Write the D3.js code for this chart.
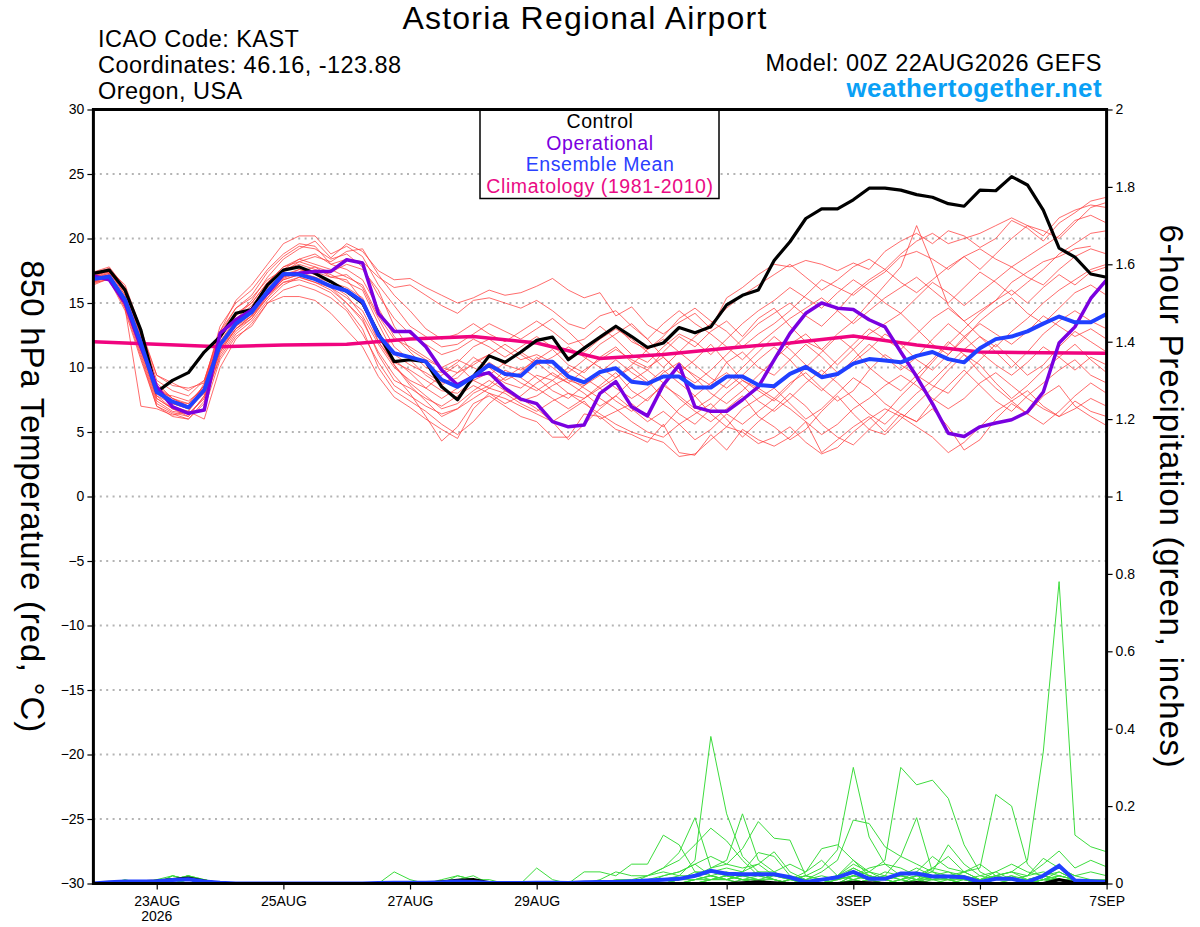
<!DOCTYPE html>
<html>
<head>
<meta charset="utf-8">
<script src="https://cdn.jsdelivr.net/npm/d3@7"></script>
<style>
  body { margin: 0; background: #fff; }
  svg { font-family: "Liberation Sans", Arial, Helvetica, sans-serif; }
</style>
</head>
<body>
<svg id="chart"></svg>
<script>
// forecast hours, 6-hourly from 00Z 22AUG2026 out to 384h
var hours = d3.range(0, 385, 6);

var tickHours = [24, 72, 120, 168, 240, 288, 336, 384];
var tickLabels = ["23AUG", "25AUG", "27AUG", "29AUG", "1SEP", "3SEP", "5SEP", "7SEP"];
var tempTicks = [30, 25, 20, 15, 10, 5, 0, -5, -10, -15, -20, -25, -30];
var precipTicks = [0, 0.2, 0.4, 0.6, 0.8, 1, 1.2, 1.4, 1.6, 1.8, 2];

// 850 hPa temperature, deg C
var control = [17.3, 17.55, 16.0, 12.9, 8.1, 9.0, 9.6, 11.2, 12.4, 14.2, 14.5, 16.4, 17.55,
  17.8, 17.3, 16.65, 15.9, 15.0, 12.65, 10.45, 10.6, 10.45, 8.5,
  7.5, 9.3, 10.9, 10.4, 11.2, 12.1, 12.35, 10.6, 11.5, 12.35,
  13.2, 12.4, 11.55, 11.9, 13.1, 12.7, 13.15, 14.85, 15.6, 16.0,
  18.3, 19.75, 21.55, 22.3, 22.3, 23.0, 23.9, 23.9, 23.75, 23.4, 23.2,
  22.7, 22.5, 23.75, 23.7, 24.8, 24.15, 22.2, 19.25, 18.55, 17.25, 17.0];

var operational = [17.1, 16.8, 15.0, 11.6, 8.5, 6.95, 6.45, 6.7, 12.65, 13.7, 14.45, 15.75, 17.2,
  17.3, 17.45, 17.45, 18.35, 18.1, 14.2, 12.8, 12.8, 11.6, 9.8,
  8.65, 9.3, 9.6, 8.4, 7.55, 7.2, 5.8, 5.4, 5.55, 8.0,
  8.9, 6.95, 6.25, 8.65, 10.2, 6.95, 6.6, 6.6, 7.5, 8.5,
  10.6, 12.65, 14.2, 15.0, 14.6, 14.5, 13.7, 13.15, 11.2, 9.3, 7.2,
  4.9, 4.65, 5.4, 5.7, 5.95, 6.55, 8.1, 11.9, 13.15, 15.35, 16.8];

var ensMean = [16.85, 17.05, 15.25, 11.9, 8.1, 7.35, 6.9, 8.25, 11.75, 13.4, 14.3, 15.9, 17.25,
  17.2, 16.85, 16.3, 15.95, 15.1, 12.5, 11.1, 10.8, 10.45, 9.05,
  8.5, 9.3, 10.2, 9.5, 9.35, 10.45, 10.45, 9.3, 8.85, 9.65,
  9.95, 8.9, 8.75, 9.3, 9.3, 8.45, 8.45, 9.3, 9.3, 8.65,
  8.55, 9.5, 10.05, 9.25, 9.5, 10.3, 10.65, 10.55, 10.4, 10.9, 11.2,
  10.65, 10.4, 11.5, 12.2, 12.4, 12.8, 13.4, 13.95, 13.5, 13.5, 14.15];

// climatology 1981-2010, daily at 00Z
var climDays = d3.range(0, 17);
var climatology = [12.0, 11.8, 11.6, 11.75, 11.8, 12.2, 12.4, 11.9, 10.7, 11.0, 11.5, 11.9, 12.45, 11.75, 11.2, 11.15, 11.1];

// ensemble members
var m01 = [17.0, 17.6, 15.8, 12.5, 8.8, 7.6, 7.0, 8.6, 12.2, 14.0, 15.2, 17.0, 18.4,
  19.2, 19.8, 18.5, 19.6, 19.0, 17.5, 16.8, 16.9, 16.2, 15.6,
  15.0, 15.4, 16.0, 15.6, 15.8, 16.3, 16.9, 16.0, 15.4, 15.8,
  14.0, 14.7, 13.3, 12.6, 13.5, 14.2, 13.0, 15.4, 16.2, 17.2,
  18.0, 17.8, 18.3, 18.0, 17.5, 18.1, 17.6, 19.0, 19.8, 20.4, 19.6,
  20.6, 20.2, 19.3, 20.0, 21.4, 20.8, 19.8, 21.2, 22.0, 22.9, 23.2];
var m02 = [16.6, 17.2, 14.8, 11.0, 7.2, 6.5, 6.2, 7.8, 11.2, 13.0, 14.0, 15.4, 16.9,
  17.4, 17.0, 16.2, 15.0, 13.6, 11.2, 9.4, 8.0, 6.2, 4.3,
  5.4, 7.2, 7.8, 7.0, 6.2, 5.8, 4.6, 4.6, 6.4, 6.2,
  5.2, 4.8, 4.2, 5.6, 3.4, 3.2, 4.8, 3.6, 5.2, 4.4,
  3.9, 4.6, 5.8, 3.4, 4.4, 5.4, 6.2, 5.0, 6.4, 5.8, 6.8,
  5.4, 3.6, 4.4, 6.0, 7.2, 6.4, 7.8, 8.6, 7.0, 6.2, 5.5];
var m03 = [17.2, 17.4, 15.6, 12.0, 8.2, 7.0, 6.6, 8.8, 12.6, 14.6, 15.4, 16.8, 17.6,
  18.0, 17.6, 17.2, 16.6, 16.0, 13.4, 11.0, 10.2, 9.6, 8.8,
  9.2, 10.4, 11.0, 10.2, 9.8, 10.6, 11.4, 10.2, 9.6, 10.8,
  11.6, 10.4, 9.8, 11.2, 12.4, 11.6, 12.8, 13.6, 12.4, 13.8,
  14.6, 13.2, 12.0, 11.4, 12.6, 13.6, 15.0, 16.4, 17.8, 21.0, 18.0,
  14.8, 13.6, 14.4, 15.2, 16.6, 17.4, 18.2, 18.6, 19.2, 19.4];
var m04 = [16.8, 17.0, 15.0, 11.4, 7.8, 7.2, 6.8, 8.0, 11.6, 13.2, 14.2, 15.8, 17.0,
  17.4, 17.8, 17.0, 16.8, 15.2, 12.0, 10.4, 9.8, 9.0, 8.2,
  8.0, 9.0, 9.6, 8.8, 8.4, 9.4, 9.0, 8.0, 7.6, 8.6,
  9.6, 8.2, 7.4, 8.8, 10.2, 9.4, 8.6, 10.4, 11.2, 10.0,
  9.4, 10.6, 11.8, 10.8, 9.6, 10.4, 11.4, 12.6, 11.8, 10.6, 9.8,
  11.0, 12.4, 13.4, 12.6, 11.8, 12.8, 14.0, 13.2, 12.4, 13.0, 12.2];
var m05 = [17.4, 17.8, 16.2, 12.8, 9.4, 8.8, 8.2, 9.0, 12.8, 15.2, 16.4, 18.0, 19.6,
  20.2, 20.2, 18.8, 19.4, 18.6, 16.4, 14.8, 13.2, 12.4, 11.6,
  11.8, 12.6, 13.4, 12.8, 12.2, 13.0, 13.8, 12.8, 11.6, 12.4,
  13.2, 12.0, 11.4, 12.4, 13.8, 14.6, 13.6, 12.8, 11.6, 12.6,
  13.4, 14.4, 15.6, 16.8, 16.2, 15.6, 16.6, 17.4, 18.6, 19.0, 18.4,
  17.6, 18.6, 19.2, 18.4, 17.8, 18.6, 19.4, 20.2, 21.4, 21.8, 21.2];
var m06 = [16.4, 16.9, 14.6, 7.0, 6.8, 6.3, 6.6, 6.0, 10.0, 12.2, 13.4, 15.0, 15.5,
  15.5, 15.2, 14.2, 12.9, 11.6, 9.3, 7.7, 6.9, 6.0, 5.2,
  4.5, 6.8, 8.0, 7.6, 7.0, 6.4, 5.8, 6.6, 7.4, 6.0,
  6.6, 7.2, 6.2, 5.4, 6.8, 7.8, 6.4, 5.4, 6.8, 7.6,
  8.4, 7.2, 6.0, 6.8, 8.0, 9.2, 8.4, 7.2, 6.4, 5.8, 7.4,
  8.6, 9.8, 8.6, 7.4, 6.6, 7.8, 8.8, 9.8, 10.6, 9.4, 8.8];
var m07 = [17.0, 17.3, 15.2, 11.8, 8.0, 7.8, 7.4, 8.4, 11.8, 13.6, 14.6, 16.2, 17.6,
  18.4, 18.8, 18.0, 17.6, 16.8, 14.6, 12.4, 11.2, 10.0, 9.6,
  10.4, 11.6, 12.2, 11.4, 10.6, 11.0, 10.4, 9.6, 10.6, 11.8,
  12.6, 13.4, 12.2, 10.8, 9.6, 10.6, 11.8, 10.4, 9.0, 8.4,
  7.6, 8.8, 9.6, 8.4, 7.4, 8.2, 9.8, 11.0, 10.2, 9.4, 8.6,
  8.0, 9.4, 10.6, 11.8, 10.6, 9.4, 10.2, 11.6, 12.8, 12.0, 11.2];
var m08 = [16.6, 16.8, 14.4, 10.6, 7.0, 6.4, 6.0, 7.4, 10.8, 12.6, 13.6, 15.2, 16.4,
  17.0, 16.6, 16.0, 15.0, 13.8, 11.0, 9.0, 8.4, 7.6, 7.0,
  7.8, 8.6, 8.0, 7.2, 7.8, 8.8, 9.6, 8.8, 8.0, 7.0,
  7.8, 9.0, 9.8, 8.8, 7.6, 6.6, 5.8, 6.8, 7.8, 6.2,
  5.4, 4.4, 5.2, 6.6, 7.8, 6.4, 5.2, 4.8, 6.0, 7.2, 8.4,
  9.8, 11.0, 10.2, 8.8, 7.6, 8.6, 9.8, 10.8, 11.8, 10.6, 9.6];
var m09 = [17.2, 17.6, 16.0, 12.6, 8.6, 7.4, 7.2, 8.6, 12.4, 14.2, 15.0, 16.6, 17.8,
  18.2, 17.8, 17.4, 18.0, 17.6, 16.0, 13.2, 11.4, 10.6, 10.0,
  10.6, 10.0, 9.4, 10.4, 11.2, 10.4, 9.4, 8.8, 9.8, 10.6,
  11.4, 10.6, 10.0, 10.8, 9.6, 8.8, 9.8, 11.0, 12.2, 13.4,
  14.2, 15.0, 14.0, 13.2, 14.4, 15.8, 16.8, 17.6, 16.6, 15.8, 16.8,
  17.8, 18.6, 17.6, 18.8, 20.0, 21.0, 20.6, 20.0, 21.2, 22.4, 22.8];
var m10 = [16.8, 17.0, 15.4, 12.2, 8.4, 7.0, 6.4, 7.6, 11.4, 13.2, 14.0, 15.6, 16.8,
  17.2, 16.8, 16.4, 15.6, 14.0, 11.8, 10.0, 9.0, 8.4, 9.4,
  10.2, 9.0, 8.4, 9.2, 10.0, 9.2, 8.2, 7.6, 8.6, 9.4,
  8.4, 7.6, 8.4, 9.6, 10.4, 9.2, 8.0, 7.2, 8.2, 9.4,
  10.6, 11.8, 12.6, 11.4, 10.2, 11.4, 12.6, 13.4, 14.2, 13.0, 11.8,
  11.0, 12.2, 13.6, 14.6, 15.4, 14.2, 13.4, 14.6, 15.8, 16.4, 15.6];
var m11 = [16.5, 16.9, 14.9, 11.2, 7.4, 6.6, 6.4, 6.8, 10.6, 12.4, 13.2, 15.0, 16.0,
  16.4, 16.0, 15.4, 14.4, 12.6, 10.4, 8.6, 7.8, 7.0, 6.4,
  6.8, 7.6, 8.4, 8.0, 7.2, 6.6, 7.4, 8.0, 7.2, 6.4,
  5.6, 5.0, 4.6, 4.2, 3.1, 3.3, 4.4, 5.4, 5.0, 4.1,
  4.6, 5.4, 4.2, 3.3, 3.8, 5.0, 6.0, 6.8, 6.2, 5.4, 4.6,
  3.4, 4.2, 5.4, 6.6, 7.4, 8.2, 7.0, 6.2, 6.8, 7.6, 7.0];
var m12 = [17.1, 17.5, 15.6, 12.2, 8.4, 7.6, 7.0, 8.0, 12.0, 13.8, 14.8, 16.4, 17.4,
  18.2, 18.6, 18.2, 19.0, 19.2, 17.2, 15.6, 14.4, 13.0, 12.2,
  12.6, 13.4, 12.6, 12.0, 12.8, 13.6, 12.8, 11.8, 12.2, 13.2,
  12.2, 11.0, 10.4, 11.6, 12.6, 12.0, 11.0, 12.2, 13.4, 14.4,
  15.2, 16.2, 15.4, 14.6, 15.8, 16.8, 16.0, 15.0, 14.2, 15.4, 16.6,
  15.8, 14.8, 15.8, 16.8, 17.8, 17.0, 16.4, 17.6, 18.6, 19.2, 18.8];
var m13 = [16.9, 17.2, 15.0, 11.6, 7.6, 6.8, 6.6, 8.2, 11.6, 13.4, 14.4, 15.8, 17.2,
  17.6, 17.2, 16.6, 16.2, 15.4, 12.6, 10.6, 9.6, 8.4, 7.6,
  8.4, 9.4, 10.4, 9.6, 8.8, 8.2, 9.0, 10.0, 9.2, 8.4,
  7.4, 6.6, 7.6, 8.6, 7.8, 6.8, 7.6, 8.8, 10.0, 11.2,
  12.4, 11.4, 10.2, 9.4, 10.6, 11.8, 13.0, 12.2, 11.4, 12.6, 13.8,
  14.6, 13.6, 12.4, 11.6, 12.8, 13.8, 15.0, 16.0, 16.8, 17.6, 18.0];
var m14 = [16.7, 17.0, 14.6, 10.8, 7.0, 6.2, 6.0, 7.2, 11.0, 12.8, 13.8, 15.4, 16.6,
  16.8, 16.4, 15.8, 14.6, 13.0, 10.0, 8.2, 7.4, 6.6, 5.6,
  4.8, 5.8, 7.2, 8.2, 7.6, 6.8, 5.8, 4.4, 5.6, 6.8,
  7.8, 6.8, 5.8, 6.6, 5.6, 4.4, 5.2, 6.4, 5.6, 6.6,
  7.6, 6.8, 5.8, 4.8, 5.6, 6.8, 7.6, 8.6, 9.4, 8.6, 7.6,
  6.8, 7.6, 8.8, 9.6, 8.6, 7.6, 6.8, 6.2, 7.4, 6.6, 6.2];
var m15 = [17.3, 17.7, 16.0, 12.8, 9.0, 8.2, 7.8, 9.0, 12.8, 14.6, 15.6, 17.4, 18.6,
  19.4, 19.2, 18.4, 18.8, 17.8, 15.6, 13.8, 12.6, 11.8, 11.0,
  11.4, 12.2, 11.6, 10.8, 11.6, 12.4, 11.6, 10.8, 11.2, 12.2,
  13.0, 12.2, 11.2, 10.0, 11.2, 12.4, 13.4, 14.6, 15.6, 16.4,
  17.2, 18.0, 17.0, 16.0, 16.8, 17.8, 18.4, 17.6, 18.8, 19.8, 20.4,
  19.6, 20.0, 20.4, 21.0, 21.6, 21.0, 20.2, 21.6, 22.2, 22.6, 22.4];
var m16 = [16.9, 17.3, 15.4, 11.8, 8.2, 7.2, 6.8, 8.4, 12.0, 13.6, 14.4, 16.0, 17.0,
  17.6, 17.4, 17.0, 17.2, 16.2, 13.8, 11.6, 10.6, 9.4, 8.6,
  9.6, 10.8, 10.0, 9.0, 9.6, 10.8, 10.0, 9.0, 8.6, 9.6,
  10.6, 9.6, 8.8, 9.8, 8.8, 7.8, 8.8, 9.6, 8.6, 7.4,
  6.6, 7.6, 8.8, 9.8, 8.8, 7.6, 6.4, 5.6, 6.8, 8.0, 9.0,
  10.2, 11.4, 12.4, 11.2, 10.0, 11.2, 12.6, 13.6, 14.4, 13.6, 13.0];
var m17 = [16.6, 17.0, 14.8, 11.4, 7.6, 6.8, 6.4, 7.6, 11.2, 13.0, 13.8, 15.6, 16.6,
  17.0, 16.6, 16.2, 15.4, 14.4, 12.0, 10.2, 8.8, 7.8, 6.8,
  7.2, 8.2, 9.0, 8.2, 7.4, 7.8, 8.6, 9.2, 8.4, 7.6,
  6.8, 5.8, 5.0, 4.6, 5.6, 6.4, 7.2, 6.0, 4.6, 5.8,
  6.8, 8.0, 7.0, 5.6, 4.6, 4.0, 5.2, 6.4, 7.8, 9.0, 10.4,
  11.8, 13.0, 14.2, 15.2, 16.0, 15.0, 16.2, 17.2, 16.4, 17.4, 17.8];
var m18 = [17.0, 17.4, 15.8, 12.4, 8.6, 7.6, 7.2, 8.6, 12.4, 14.0, 15.0, 16.6, 17.8,
  18.4, 18.0, 17.6, 17.0, 16.4, 14.0, 12.2, 11.6, 10.8, 10.0,
  9.6, 10.2, 11.0, 11.8, 11.0, 10.2, 10.8, 11.6, 10.8, 10.0,
  9.2, 10.2, 11.4, 12.2, 11.2, 10.2, 9.2, 8.4, 9.4, 10.6,
  11.6, 10.6, 9.2, 8.2, 9.4, 10.6, 11.8, 10.8, 9.8, 10.8, 12.2,
  13.4, 12.4, 11.2, 10.2, 9.4, 10.4, 11.6, 10.8, 9.8, 10.8, 10.2];
var m19 = [17.2, 17.6, 16.4, 13.0, 9.4, 8.6, 8.4, 8.8, 13.2, 15.0, 16.0, 17.6, 18.8,
  19.6, 19.4, 18.0, 18.4, 18.2, 17.0, 16.2, 16.4, 15.6, 14.8,
  14.2, 15.2, 15.4, 15.0, 14.6, 15.2, 14.4, 13.4, 13.0, 14.0,
  14.4, 13.2, 12.2, 13.4, 14.4, 13.4, 12.6, 11.6, 10.6, 11.8,
  12.8, 13.8, 14.6, 15.4, 14.4, 13.4, 14.4, 15.4, 16.2, 17.0, 16.0,
  15.0, 16.2, 17.4, 16.6, 15.6, 16.6, 17.6, 18.8, 19.6, 20.4, 20.6];
var m20 = [16.8, 17.1, 15.2, 11.6, 7.8, 6.8, 6.2, 7.8, 11.4, 13.0, 14.0, 15.8, 16.8,
  17.2, 17.0, 16.6, 16.0, 14.8, 12.4, 10.2, 8.6, 7.4, 6.2,
  6.8, 8.0, 8.6, 9.8, 9.2, 8.4, 7.6, 6.8, 7.6, 8.4,
  9.2, 10.0, 9.0, 7.6, 6.4, 5.6, 6.8, 8.0, 9.0, 8.2,
  7.4, 8.6, 10.0, 11.2, 12.4, 11.4, 10.0, 9.0, 8.2, 9.4, 10.6,
  12.0, 11.0, 9.6, 8.4, 7.4, 6.4, 5.6, 6.6, 7.8, 8.8, 8.0];

// 6-hour precipitation, inches
var ctlPrecip = [0, 0, 0.002, 0.004, 0.006, 0.01, 0.014, 0.006, 0, 0,
  0, 0, 0, 0, 0, 0, 0, 0, 0, 0,
  0, 0, 0.004, 0.008, 0.01, 0.002, 0, 0, 0, 0,
  0, 0, 0, 0, 0, 0, 0, 0, 0, 0,
  0, 0.002, 0.004, 0.002, 0, 0, 0, 0, 0.003, 0.002,
  0, 0, 0.002, 0, 0, 0, 0, 0, 0, 0,
  0, 0.01, 0.002, 0, 0];
var meanPrecip = [0, 0.003, 0.005, 0.005, 0.006, 0.009, 0.011, 0.005, 0.002, 0,
  0, 0, 0, 0, 0, 0, 0, 0, 0.001, 0.002,
  0.002, 0.002, 0.003, 0.005, 0.004, 0.002, 0.001, 0.001, 0.002, 0.002,
  0.001, 0.003, 0.004, 0.004, 0.006, 0.008, 0.01, 0.012, 0.02, 0.033,
  0.025, 0.024, 0.024, 0.024, 0.016, 0.004, 0.01, 0.016, 0.03, 0.012,
  0.012, 0.026, 0.026, 0.018, 0.018, 0.016, 0.004, 0.012, 0.012, 0.004,
  0.02, 0.046, 0.008, 0.006, 0.004];

var p01 = [0, 0, 0, 0, 0.01, 0.02, 0.01, 0, 0, 0,
  0, 0, 0, 0, 0, 0, 0, 0, 0, 0,
  0, 0, 0, 0, 0, 0, 0, 0, 0.04, 0.01,
  0, 0, 0.01, 0.03, 0.02, 0.02, 0.03, 0.02, 0.06, 0.38,
  0.18, 0.07, 0.03, 0.01, 0, 0, 0.01, 0.02, 0.01, 0,
  0, 0.01, 0.03, 0.01, 0, 0, 0.01, 0, 0, 0.01,
  0.02, 0.01, 0, 0, 0];
var p02 = [0, 0, 0.01, 0, 0, 0.02, 0.01, 0, 0, 0,
  0, 0, 0, 0, 0, 0, 0, 0, 0, 0.03,
  0.01, 0, 0, 0.01, 0.01, 0, 0, 0, 0, 0,
  0, 0.03, 0.03, 0.02, 0.05, 0.05, 0.125, 0.1, 0.03, 0.03,
  0.02, 0.01, 0, 0, 0.01, 0.02, 0.01, 0, 0, 0.01,
  0.02, 0.01, 0, 0, 0.01, 0.03, 0.01, 0, 0, 0,
  0.01, 0, 0, 0, 0];
var p03 = [0, 0, 0, 0, 0, 0.01, 0.02, 0, 0, 0,
  0, 0, 0, 0, 0, 0, 0, 0, 0, 0,
  0, 0, 0.01, 0.02, 0.01, 0, 0, 0, 0, 0,
  0, 0, 0, 0.01, 0.01, 0.02, 0.04, 0.08, 0.17, 0.04,
  0.06, 0.18, 0.06, 0.03, 0.01, 0, 0, 0.01, 0.04, 0.02,
  0.01, 0, 0, 0.02, 0.01, 0, 0, 0.01, 0.02, 0,
  0, 0.01, 0, 0, 0];
var p04 = [0, 0, 0, 0, 0, 0.01, 0.01, 0, 0, 0,
  0, 0, 0, 0, 0, 0, 0, 0, 0, 0,
  0, 0, 0, 0, 0, 0, 0, 0, 0, 0,
  0, 0, 0, 0, 0, 0.02, 0.04, 0.06, 0.1, 0.143,
  0.11, 0.06, 0.02, 0.01, 0, 0, 0, 0.02, 0.06, 0.03,
  0.01, 0.02, 0.04, 0.02, 0.01, 0, 0, 0, 0.01, 0.01,
  0.02, 0.04, 0.02, 0.01, 0.01];
var p05 = [0, 0, 0, 0, 0, 0.01, 0.01, 0.01, 0, 0,
  0, 0, 0, 0, 0, 0, 0, 0, 0, 0,
  0, 0, 0, 0, 0, 0, 0, 0, 0, 0,
  0, 0, 0, 0, 0, 0, 0, 0.01, 0.02, 0.04,
  0.05, 0.09, 0.16, 0.117, 0.112, 0.02, 0.01, 0, 0, 0.01,
  0.03, 0.02, 0.01, 0.04, 0.07, 0.03, 0.01, 0, 0, 0,
  0.01, 0.03, 0.01, 0, 0];
var p06 = [0, 0, 0, 0, 0, 0.02, 0.01, 0, 0, 0,
  0, 0, 0, 0, 0, 0, 0, 0, 0, 0,
  0, 0, 0, 0.02, 0.01, 0.01, 0, 0, 0, 0,
  0, 0, 0, 0, 0, 0, 0.02, 0.03, 0.05, 0.07,
  0.05, 0.04, 0.05, 0.082, 0.03, 0.01, 0, 0, 0.02, 0.01,
  0, 0, 0.01, 0.02, 0.03, 0.02, 0, 0, 0.01, 0.02,
  0.03, 0.02, 0.01, 0, 0];
var p07 = [0, 0, 0, 0, 0, 0.01, 0.01, 0, 0, 0,
  0, 0, 0, 0, 0, 0, 0, 0, 0, 0,
  0, 0, 0, 0, 0, 0, 0, 0, 0, 0,
  0, 0, 0, 0, 0, 0, 0, 0.01, 0.02, 0.01,
  0.02, 0.01, 0.01, 0, 0.01, 0.02, 0.04, 0.087, 0.30, 0.12,
  0.05, 0.02, 0.01, 0, 0, 0.01, 0.01, 0, 0, 0,
  0.01, 0.02, 0.01, 0, 0];
var p08 = [0, 0, 0, 0, 0, 0, 0.01, 0, 0, 0,
  0, 0, 0, 0, 0, 0, 0, 0, 0, 0,
  0, 0, 0, 0, 0, 0, 0, 0, 0, 0,
  0, 0, 0, 0, 0, 0, 0, 0, 0.01, 0.02,
  0.03, 0.02, 0.01, 0.01, 0, 0.01, 0.03, 0.06, 0.164, 0.155,
  0.095, 0.07, 0.05, 0.03, 0.02, 0.01, 0, 0.02, 0.03, 0.01,
  0, 0, 0.01, 0.01, 0];
var p09 = [0, 0, 0, 0, 0.01, 0.01, 0.02, 0, 0, 0,
  0, 0, 0, 0, 0, 0, 0, 0, 0, 0,
  0, 0, 0, 0, 0, 0, 0, 0, 0, 0,
  0, 0, 0, 0, 0, 0.01, 0.02, 0.03, 0.05, 0.02,
  0.01, 0.03, 0.05, 0.02, 0.01, 0.03, 0.09, 0.1, 0.06, 0.02,
  0.01, 0, 0, 0.01, 0.02, 0.01, 0, 0, 0, 0,
  0, 0.01, 0, 0, 0];
var p10 = [0, 0, 0, 0, 0, 0, 0.01, 0, 0, 0,
  0, 0, 0, 0, 0, 0, 0, 0, 0, 0,
  0, 0, 0, 0, 0, 0, 0, 0, 0, 0,
  0, 0, 0, 0, 0, 0, 0.01, 0.01, 0.02, 0.03,
  0.02, 0.01, 0.01, 0, 0, 0.01, 0.02, 0.01, 0.02, 0.03,
  0.06, 0.30, 0.255, 0.267, 0.22, 0.10, 0.03, 0.01, 0.01, 0,
  0.01, 0.01, 0, 0, 0];
var p11 = [0, 0, 0, 0, 0, 0.01, 0.01, 0, 0, 0,
  0, 0, 0, 0, 0, 0, 0, 0, 0, 0,
  0, 0, 0, 0, 0, 0, 0, 0, 0, 0,
  0, 0, 0, 0, 0, 0, 0, 0.01, 0.03, 0.02,
  0.01, 0.02, 0.03, 0.01, 0, 0, 0.01, 0.02, 0.05, 0.03,
  0.02, 0.07, 0.17, 0.03, 0.01, 0.01, 0.02, 0.03, 0.01, 0,
  0, 0.02, 0.01, 0, 0];
var p12 = [0, 0, 0, 0, 0, 0.01, 0.02, 0.01, 0, 0,
  0, 0, 0, 0, 0, 0, 0, 0, 0, 0,
  0, 0, 0, 0.01, 0.02, 0, 0, 0, 0, 0,
  0, 0, 0, 0, 0, 0, 0, 0, 0, 0.01,
  0.02, 0.01, 0, 0, 0.01, 0.02, 0.01, 0, 0.02, 0.04,
  0.05, 0.04, 0.02, 0.03, 0.1, 0.05, 0.02, 0.01, 0.02, 0.01,
  0.02, 0.03, 0.01, 0.01, 0];
var p13 = [0, 0, 0, 0, 0, 0, 0.01, 0, 0, 0,
  0, 0, 0, 0, 0, 0, 0, 0, 0, 0,
  0, 0, 0, 0, 0, 0, 0, 0, 0, 0,
  0, 0, 0, 0, 0, 0, 0, 0, 0.01, 0.02,
  0.01, 0, 0, 0, 0, 0, 0.01, 0.02, 0.01, 0,
  0, 0.01, 0.02, 0.01, 0.02, 0.03, 0.04, 0.23, 0.2, 0.05,
  0.01, 0.02, 0.01, 0, 0];
var p14 = [0, 0, 0, 0, 0, 0.01, 0.01, 0, 0, 0,
  0, 0, 0, 0, 0, 0, 0, 0, 0, 0,
  0, 0, 0, 0, 0, 0, 0, 0, 0, 0,
  0, 0, 0, 0, 0, 0, 0, 0, 0.01, 0.01,
  0.02, 0.01, 0, 0, 0, 0, 0.01, 0.01, 0.02, 0.01,
  0, 0, 0.01, 0.02, 0.01, 0.02, 0.01, 0.02, 0.03, 0.06,
  0.34, 0.78, 0.125, 0.095, 0.082];
var p15 = [0, 0, 0, 0, 0, 0.01, 0.01, 0, 0, 0,
  0, 0, 0, 0, 0, 0, 0, 0, 0, 0,
  0, 0, 0, 0, 0, 0, 0, 0, 0, 0,
  0, 0, 0, 0, 0, 0, 0, 0, 0, 0.01,
  0.01, 0.02, 0.01, 0, 0, 0, 0, 0.01, 0.02, 0.01,
  0, 0, 0.02, 0.01, 0.01, 0, 0.01, 0.02, 0.03, 0.02,
  0.05, 0.084, 0.04, 0.06, 0.043];
var p16 = [0, 0, 0, 0, 0, 0, 0.01, 0, 0, 0,
  0, 0, 0, 0, 0, 0, 0, 0, 0, 0,
  0, 0, 0, 0, 0, 0, 0, 0, 0, 0,
  0, 0, 0, 0, 0, 0, 0, 0, 0, 0,
  0, 0.01, 0.02, 0.01, 0, 0, 0, 0.02, 0.04, 0.02,
  0.01, 0.02, 0.01, 0, 0, 0, 0.01, 0.02, 0.01, 0.02,
  0.065, 0.04, 0.02, 0.03, 0.02];
var p17 = [0, 0, 0, 0, 0, 0.01, 0.01, 0, 0, 0,
  0, 0, 0, 0, 0, 0, 0, 0, 0, 0,
  0, 0, 0, 0, 0, 0, 0, 0, 0, 0,
  0, 0, 0, 0, 0, 0, 0, 0.01, 0.01, 0.02,
  0.01, 0.02, 0.03, 0.03, 0.05, 0.03, 0.06, 0.02, 0.01, 0,
  0, 0.01, 0.02, 0.04, 0.03, 0.01, 0, 0.01, 0.01, 0,
  0, 0.01, 0, 0, 0];
var p18 = [0, 0, 0, 0, 0, 0.01, 0.02, 0.01, 0, 0,
  0, 0, 0, 0, 0, 0, 0, 0, 0, 0,
  0, 0, 0, 0.01, 0.01, 0, 0, 0, 0, 0,
  0, 0, 0, 0, 0, 0, 0.01, 0.02, 0.02, 0.03,
  0.04, 0.03, 0.08, 0.07, 0.02, 0.01, 0, 0, 0, 0.01,
  0.02, 0.01, 0, 0, 0, 0, 0, 0, 0, 0,
  0.01, 0.01, 0, 0, 0];
var p19 = [0, 0, 0, 0, 0, 0.01, 0.01, 0, 0, 0,
  0, 0, 0, 0, 0, 0, 0, 0, 0, 0,
  0, 0, 0, 0, 0, 0, 0, 0, 0, 0,
  0, 0, 0, 0, 0, 0, 0, 0, 0, 0,
  0, 0, 0.01, 0.02, 0.01, 0, 0, 0, 0.01, 0.02,
  0.01, 0.02, 0.03, 0.07, 0.04, 0.03, 0.05, 0.02, 0.01, 0.01,
  0.02, 0.01, 0, 0, 0];
var p20 = [0, 0, 0, 0, 0, 0, 0.01, 0, 0, 0,
  0, 0, 0, 0, 0, 0, 0, 0, 0, 0,
  0, 0, 0, 0, 0, 0, 0, 0, 0, 0,
  0, 0, 0, 0, 0, 0, 0, 0, 0, 0.01,
  0.01, 0, 0, 0, 0, 0, 0, 0, 0.01, 0.02,
  0.01, 0, 0.01, 0.01, 0.02, 0.01, 0.01, 0.03, 0.05, 0.03,
  0.02, 0.01, 0.01, 0, 0];

var tempMembers = [m01, m02, m03, m04, m05, m06, m07, m08, m09, m10,
                   m11, m12, m13, m14, m15, m16, m17, m18, m19, m20];
var precipMembers = [p01, p02, p03, p04, p05, p06, p07, p08, p09, p10,
                     p11, p12, p13, p14, p15, p16, p17, p18, p19, p20];

// ---------------------------------------------------------------
var width = 1200;
var height = 927;
var padL = 93.4, padR = 1106.6, padT = 109.5, padB = 883.5;

var svg = d3.select("#chart")
  .attr("width", width)
  .attr("height", height);

var x = d3.scaleLinear().domain([0, 384]).range([padL, padR]);
var yT = d3.scaleLinear().domain([-30, 30]).range([padB, padT]);
var yP = d3.scaleLinear().domain([0, 2]).range([padB, padT]);

svg.append("clipPath").attr("id", "plotclip")
  .append("rect")
  .attr("x", padL).attr("y", padT)
  .attr("width", padR - padL).attr("height", padB - padT);

// dotted grid at every 5 degrees
svg.append("g")
  .selectAll("line")
  .data(tempTicks.filter(t => t > -30 && t < 30))
  .enter()
    .append("line")
    .attr("x1", padL).attr("x2", padR)
    .attr("y1", d => yT(d)).attr("y2", d => yT(d))
    .attr("stroke", "#b4b4b4")
    .attr("stroke-width", 2)
    .attr("stroke-dasharray", "2,4.4");

var plot = svg.append("g").attr("clip-path", "url(#plotclip)");

var tLine = d3.line()
  .x((d, i) => x(hours[i]))
  .y(d => yT(d));

var pLine = d3.line()
  .x((d, i) => x(hours[i]))
  .y(d => yP(d));

plot.selectAll(".member")
  .data(tempMembers)
  .enter()
    .append("path")
    .attr("class", "member")
    .attr("d", tLine)
    .attr("fill", "none")
    .attr("stroke", "#ff3b3b")
    .attr("stroke-opacity", 0.75)
    .attr("stroke-width", 1);

plot.selectAll(".pmember")
  .data(precipMembers)
  .enter()
    .append("path")
    .attr("class", "pmember")
    .attr("d", pLine)
    .attr("fill", "none")
    .attr("stroke", "#3ddc3d")
    .attr("stroke-width", 1);

plot.append("path")
  .datum(climatology)
  .attr("d", d3.line().x((d, i) => x(climDays[i] * 24)).y(d => yT(d)))
  .attr("fill", "none")
  .attr("stroke", "#f0047f")
  .attr("stroke-width", 3.5);

plot.append("path")
  .datum(control)
  .attr("d", tLine)
  .attr("fill", "none")
  .attr("stroke", "#000")
  .attr("stroke-width", 3.2)
  .attr("stroke-linejoin", "round");

plot.append("path")
  .datum(operational)
  .attr("d", tLine)
  .attr("fill", "none")
  .attr("stroke", "#7a00e0")
  .attr("stroke-width", 3.5)
  .attr("stroke-linejoin", "round");

plot.append("path")
  .datum(ensMean)
  .attr("d", tLine)
  .attr("fill", "none")
  .attr("stroke", "#2040ff")
  .attr("stroke-width", 4)
  .attr("stroke-linejoin", "round");

plot.append("path")
  .datum(ctlPrecip)
  .attr("d", pLine)
  .attr("fill", "none")
  .attr("stroke", "#000")
  .attr("stroke-width", 3.2);

plot.append("path")
  .datum(meanPrecip)
  .attr("d", pLine)
  .attr("fill", "none")
  .attr("stroke", "#2040ff")
  .attr("stroke-width", 4);

// axes
var leftAxis = d3.axisLeft(yT).tickValues(tempTicks).tickSize(6).tickSizeOuter(0).tickFormat(d3.format("d"));
var rightAxis = d3.axisRight(yP).tickValues(precipTicks).tickSize(6).tickSizeOuter(0).tickFormat(d3.format("~g"));
var bottomAxis = d3.axisBottom(x).tickValues(tickHours).tickSize(6).tickSizeOuter(0)
  .tickFormat((d, i) => tickLabels[i]);

function styleAxis(g) {
  g.select(".domain").remove();
  g.selectAll(".tick line").attr("stroke", "#000").attr("stroke-width", 1.2);
  g.selectAll(".tick text")
    .attr("fill", "#000")
    .attr("font-size", 14)
    .attr("font-family", "'Liberation Sans', Arial, sans-serif");
}

svg.append("g")
  .attr("transform", "translate(" + padL + ",0)")
  .call(leftAxis)
  .call(styleAxis);

svg.append("g")
  .attr("transform", "translate(" + padR + ",0)")
  .call(rightAxis)
  .call(styleAxis);

var xg = svg.append("g")
  .attr("transform", "translate(0," + padB + ")")
  .call(bottomAxis)
  .call(styleAxis);
xg.selectAll(".tick text").attr("dy", "0.95em");

svg.append("text")
  .attr("x", x(24))
  .attr("y", padB + 37)
  .attr("text-anchor", "middle")
  .attr("font-size", 14)
  .text("2026");

// frame
svg.append("rect")
  .attr("x", padL).attr("y", padT)
  .attr("width", padR - padL).attr("height", padB - padT)
  .attr("fill", "none")
  .attr("stroke", "#000")
  .attr("stroke-width", 3);

// legend box
var legend = svg.append("g");
legend.append("rect")
  .attr("x", 480).attr("y", padT)
  .attr("width", 239).attr("height", 89)
  .attr("fill", "#fff")
  .attr("stroke", "#000")
  .attr("stroke-width", 1.5);
legend.append("line")
  .attr("x1", 480).attr("x2", 719)
  .attr("y1", padT).attr("y2", padT)
  .attr("stroke", "#000").attr("stroke-width", 3);

var legendItems = ["Control", "Operational", "Ensemble Mean", "Climatology (1981-2010)"];
var legendColors = ["#000", "#7a00e0", "#2a40ff", "#ea0a84"];
legend.selectAll(".lg")
  .data(legendItems)
  .enter()
    .append("text")
    .attr("x", 600)
    .attr("y", (d, i) => 128 + i * 21.6)
    .attr("text-anchor", "middle")
    .attr("font-size", 19.5)
    .attr("letter-spacing", 0.6)
    .attr("fill", (d, i) => legendColors[i])
    .text(d => d);

// titles
svg.append("text")
  .attr("x", 585)
  .attr("y", 29)
  .attr("text-anchor", "middle")
  .attr("font-size", 32)
  .attr("letter-spacing", 1.2)
  .text("Astoria Regional Airport");

var infoLines = ["ICAO Code: KAST", "Coordinates: 46.16, -123.88", "Oregon, USA"];
svg.selectAll(".info")
  .data(infoLines)
  .enter()
    .append("text")
    .attr("x", 98)
    .attr("y", (d, i) => 47 + i * 26)
    .attr("font-size", 23.5)
    .attr("letter-spacing", 0.45)
    .text(d => d);

svg.append("text")
  .attr("x", 1102)
  .attr("y", 71)
  .attr("text-anchor", "end")
  .attr("font-size", 23.5)
  .attr("letter-spacing", 0.5)
  .text("Model: 00Z 22AUG2026 GEFS");

svg.append("text")
  .attr("x", 1102)
  .attr("y", 97)
  .attr("text-anchor", "end")
  .attr("font-size", 26)
  .attr("font-weight", "bold")
  .attr("letter-spacing", 0.45)
  .attr("fill", "#0aa0f5")
  .text("weathertogether.net");

svg.append("text")
  .attr("transform", "translate(33," + ((padT + padB) / 2) + ") rotate(90)")
  .attr("text-anchor", "middle")
  .attr("dy", "0.35em")
  .attr("font-size", 33)
  .attr("letter-spacing", 0.75)
  .text("850 hPa Temperature (red, \u00B0C)");

svg.append("text")
  .attr("transform", "translate(1172," + ((padT + padB) / 2) + ") rotate(90)")
  .attr("text-anchor", "middle")
  .attr("dy", "0.35em")
  .attr("font-size", 33)
  .attr("letter-spacing", 0.8)
  .text("6-hour Precipitation (green, inches)");
</script>
</body>
</html>
